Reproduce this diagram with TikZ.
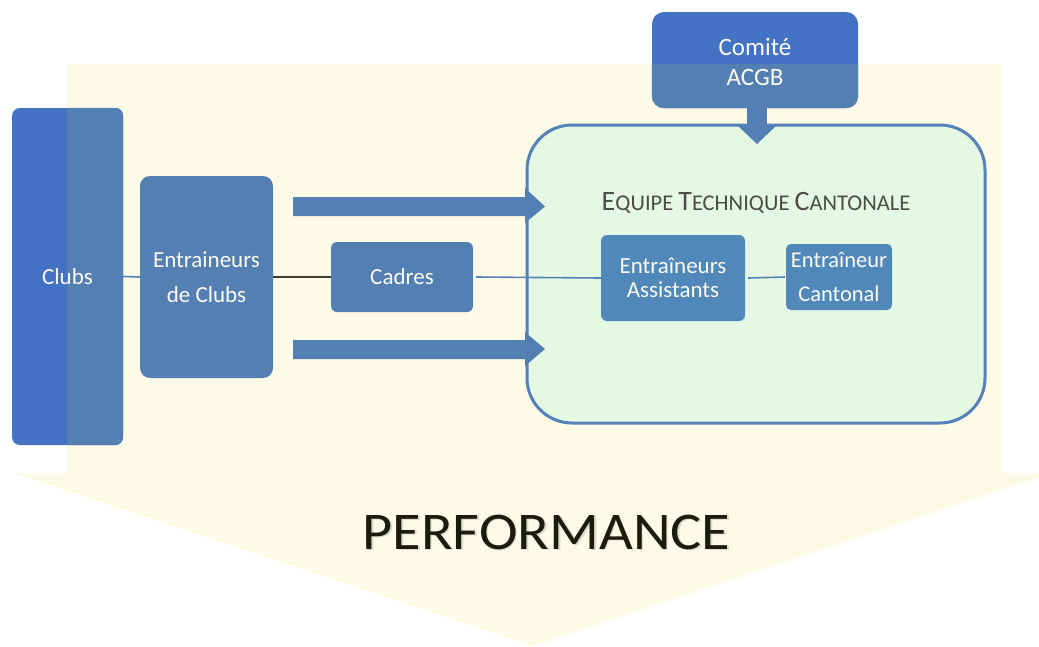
\documentclass[tikz,border=0pt]{standalone}
\usepackage{fontspec}
\setmainfont{Carlito}
\definecolor{yel}{HTML}{FCFBE7}
\definecolor{blueA}{HTML}{4472C4}
\definecolor{blueB}{HTML}{547FB2}
\definecolor{blueC}{HTML}{5088BA}
\definecolor{etcborder}{HTML}{5681B8}
\definecolor{etcfill}{HTML}{E4F8E4}
\definecolor{txtw}{HTML}{FBFBF2}
\definecolor{titlec}{HTML}{4A4D45}
\definecolor{perfc}{HTML}{1C1C0C}
\tikzset{
  bbox/.style={rectangle, fill=blueB, draw=none, text=txtw, align=center, inner sep=0pt},
  cbox/.style={rectangle, fill=blueC, draw=none, text=txtw, align=center, inner sep=0pt},
  bline/.style={draw=etcborder, line width=1.6pt},
  blockarrow/.style={fill=blueB, draw=none},
}
\begin{document}
\begin{tikzpicture}[x=1pt,y=-1pt]
\useasboundingbox (0,0) rectangle (1039,646);
% big yellow arrow
\fill[yel] (67,64) -- (1002,64) -- (1002,473) -- (1053,473) -- (533,646) -- (13,473) -- (67,473) -- cycle;

% Clubs
\node[bbox, fill=blueA, rounded corners=8pt, minimum width=111pt, minimum height=337pt] (clubsbox) at (67.5,276.5) {};
\begin{scope}
  \clip (67,64) rectangle (1002,473);
  \fill[blueB, rounded corners=8pt] (clubsbox.north west) rectangle (clubsbox.south east);
\end{scope}
\node[text=txtw, font=\fontsize{23}{27}\selectfont] (clubs) at (clubsbox.center) {Clubs};

% Entraineurs de Clubs
\node[bbox, rounded corners=10pt, minimum width=133pt, minimum height=202pt, font=\fontsize{23}{35}\selectfont] (entr) at (206.5,277) {Entraineurs\\de Clubs};

% Cadres
\node[bbox, rounded corners=6pt, minimum width=142pt, minimum height=70pt, font=\fontsize{23}{27}\selectfont] (cadres) at (402,277) {Cadres};

% ETC
\node[draw=etcborder, line width=3pt, fill=etcfill, rounded corners=45pt, minimum width=458pt, minimum height=298pt, inner sep=0pt] (etc) at (756,274) {};
\node[text=titlec, inner sep=0pt] (etctitle) at (756,203) {\fontsize{28}{28}\selectfont E\fontsize{22.5}{22.5}\selectfont QUIPE \fontsize{28}{28}\selectfont T\fontsize{22.5}{22.5}\selectfont ECHNIQUE \fontsize{28}{28}\selectfont C\fontsize{22.5}{22.5}\selectfont ANTONALE};

\node[cbox, rounded corners=6pt, minimum width=144pt, minimum height=86pt, font=\fontsize{23}{24}\selectfont] (assist) at (673,278) {Entraîneurs\\Assistants};
\node[cbox, rounded corners=5pt, minimum width=106pt, minimum height=66pt, font=\fontsize{22.5}{34}\selectfont] (canton) at (839,277) {Entraîneur\\Cantonal};

% connectors
\draw[bline] (clubsbox.east) -- (entr.west);
\draw[draw=perfc!85, line width=1.4pt] (entr.east) -- (cadres.west);
\draw[bline] ([xshift=3pt]cadres.east) -- (assist.west);
\draw[bline] ([xshift=3pt]assist.east) -- ([xshift=-1pt]canton.west);

% block arrows
\coordinate (a1) at (293,197);
\fill[blockarrow] (a1) -- (525,197) -- (525,188) -- (545,206.5) -- (525,223) -- (525,216) -- (293,216) -- cycle;
\coordinate (a2) at (293,340);
\fill[blockarrow] (a2) -- (525,340) -- (525,332) -- (545,349) -- (525,366) -- (525,359) -- (293,359) -- cycle;

% Comite
\node[bbox, fill=blueA, rounded corners=12pt, minimum width=206pt, minimum height=96pt] (comitebox) at (755,60) {};
\begin{scope}
  \clip (67,64) rectangle (1002,473);
  \fill[blueB, rounded corners=12pt] (comitebox.north west) rectangle (comitebox.south east);
\end{scope}
\node[text=txtw, font=\fontsize{25}{30}\selectfont, align=center] (comite) at (755,62) {Comité\\ACGB};
\fill[blueB] (747,107) rectangle (767,126);
\fill[blueB] (737,125) -- (777,125) -- (757,144) -- cycle;

% PERFORMANCE
\node[text=black!30, opacity=0.45, font=\fontsize{53}{53}\selectfont, inner sep=0pt, xscale=1.1] at (548,533.5) {PERFORMANCE};
\node[text=perfc, font=\fontsize{53}{53}\selectfont, inner sep=0pt, xscale=1.1] (perf) at (546.5,532) {PERFORMANCE};
\end{tikzpicture}
\end{document}
